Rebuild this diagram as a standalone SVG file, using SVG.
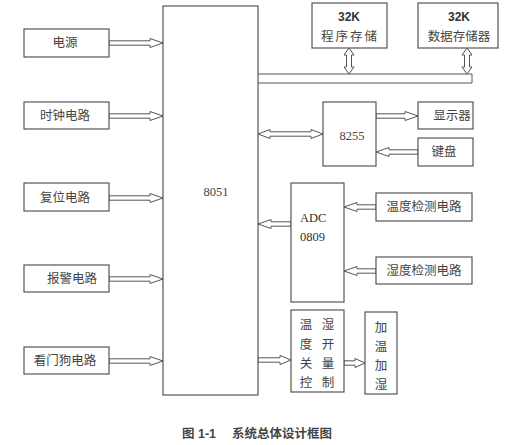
<svg xmlns="http://www.w3.org/2000/svg" width="509" height="445" viewBox="0 0 509 445">
<style>
.box{fill:#fff;stroke:#555;stroke-width:1.2}
.arr{fill:#fff;stroke:#555;stroke-width:1}
.t{font-family:"Liberation Serif","Noto Sans CJK SC",serif;font-size:12.5px;fill:#444;text-anchor:middle;dominant-baseline:central}
.tl{font-family:"Liberation Serif","Noto Sans CJK SC",serif;font-size:12.5px;fill:#333;dominant-baseline:central}
.b{font-family:"Liberation Sans","Noto Sans CJK SC",sans-serif;font-size:12px;font-weight:bold;fill:#333;text-anchor:middle;dominant-baseline:central}
.cap{font-family:"Liberation Sans","Noto Sans CJK SC",sans-serif;font-size:12.5px;font-weight:bold;fill:#444;dominant-baseline:central}
</style>
<rect width="509" height="445" fill="#fff"/>
<g id="connectors">
  <path d="M258,74 H472 V83 H258" fill="#fff" stroke="#555" stroke-width="1"/>
  <polygon class="arr" points="109,40.8 150,40.8 150,38.5 163,43 150,47.5 150,45.2 109,45.2"/>
  <polygon class="arr" points="109,113.8 150,113.8 150,111.5 163,116 150,120.5 150,118.2 109,118.2"/>
  <polygon class="arr" points="109,195.8 150,195.8 150,193.5 163,198 150,202.5 150,200.2 109,200.2"/>
  <polygon class="arr" points="109,276.8 150,276.8 150,274.5 163,279 150,283.5 150,281.2 109,281.2"/>
  <polygon class="arr" points="109,358.8 150,358.8 150,356.5 163,361 150,365.5 150,363.2 109,363.2"/>
  <polygon class="arr" points="349,48 354,55 351.5,55 351.5,67 354,67 349,74 344,67 346.5,67 346.5,55 344,55"/>
  <polygon class="arr" points="467,48 472,55 469.5,55 469.5,67 472,67 467,74 462,67 464.5,67 464.5,55 462,55"/>
  <polygon class="arr" points="258,134 270,129.5 270,131.8 311,131.8 311,129.5 323,134 311,138.5 311,136.2 270,136.2 270,138.5"/>
  <polygon class="arr" points="376,113.8 405,113.8 405,111.5 418,116 405,120.5 405,118.2 376,118.2"/>
  <polygon class="arr" points="418,149.8 389,149.8 389,147.5 376,152 389,156.5 389,154.2 418,154.2"/>
  <polygon class="arr" points="291,221.8 271,221.8 271,219.5 258,224 271,228.5 271,226.2 291,226.2"/>
  <polygon class="arr" points="376,204.8 357,204.8 357,202.5 344,207 357,211.5 357,209.2 376,209.2"/>
  <polygon class="arr" points="376,268.8 357,268.8 357,266.5 344,271 357,275.5 357,273.2 376,273.2"/>
  <polygon class="arr" points="258,357.8 280,357.8 280,355.5 291,360 280,364.5 280,362.2 258,362.2"/>
  <polygon class="arr" points="344,360.8 355,360.8 355,358.5 365,363 355,367.5 355,365.2 344,365.2"/>
</g>
<g id="n8051"><rect class="box" x="163" y="6" width="95" height="389"/><text class="t" x="216" y="192">8051</text></g>
<g id="power"><rect class="box" x="24" y="29" width="85" height="28"/><text class="t" x="65" y="43">电源</text></g>
<g id="clock"><rect class="box" x="24" y="102" width="85" height="27"/><text class="t" x="65" y="116">时钟电路</text></g>
<g id="reset"><rect class="box" x="24" y="183" width="85" height="28"/><text class="t" x="65" y="198">复位电路</text></g>
<g id="alarm"><rect class="box" x="24" y="265" width="85" height="27"/><text class="t" x="72" y="279">报警电路</text></g>
<g id="watchdog"><rect class="box" x="24" y="347" width="85" height="27"/><text class="t" x="65" y="361">看门狗电路</text></g>
<g id="prog"><rect class="box" x="312" y="3" width="75" height="45"/><text class="b" x="349" y="17">32K</text><text class="t" x="350" y="37" style="letter-spacing:2px">程序存储</text></g>
<g id="data"><rect class="box" x="418" y="3" width="80" height="45"/><text class="b" x="459" y="17">32K</text><text class="t" x="459" y="37">数据存储器</text></g>
<g id="n8255"><rect class="box" x="323" y="102" width="53" height="64"/><text class="t" x="352" y="136">8255</text></g>
<g id="display"><rect class="box" x="418" y="102" width="55" height="27"/><text class="t" x="452" y="116">显示器</text></g>
<g id="keyboard"><rect class="box" x="418" y="138" width="55" height="28"/><text class="t" x="444" y="152">键盘</text></g>
<g id="adc"><rect class="box" x="291" y="183" width="53" height="119"/><text class="tl" x="300" y="218">ADC</text><text class="tl" x="300" y="237">0809</text></g>
<g id="temp"><rect class="box" x="376" y="193" width="96" height="28"/><text class="t" x="424" y="207">温度检测电路</text></g>
<g id="hum"><rect class="box" x="376" y="257" width="96" height="27"/><text class="t" x="424" y="271">湿度检测电路</text></g>
<g id="switch"><rect class="box" x="291" y="310" width="53" height="82"/>
<text class="t" x="306" y="325">温</text><text class="t" x="328" y="325">湿</text>
<text class="t" x="306" y="345">度</text><text class="t" x="328" y="345">开</text>
<text class="t" x="306" y="364">关</text><text class="t" x="328" y="364">量</text>
<text class="t" x="306" y="383">控</text><text class="t" x="328" y="383">制</text></g>
<g id="heat"><rect class="box" x="365" y="312" width="32" height="82"/>
<text class="t" x="381" y="328">加</text><text class="t" x="381" y="347">温</text><text class="t" x="381" y="366">加</text><text class="t" x="381" y="385">湿</text></g>
<text class="cap" x="182" y="434">图 1-1　 系统总体设计框图</text>
</svg>
